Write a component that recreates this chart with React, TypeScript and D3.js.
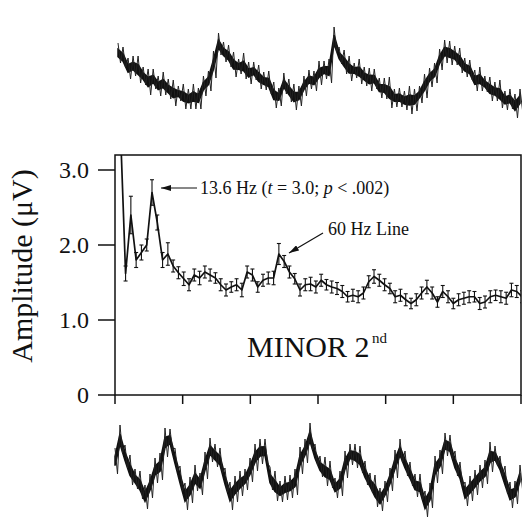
import React from "react";
import * as d3 from "d3";

// Spectrum: frequency bin width (Hz) and mean amplitude (µV) per bin, with error bars
const BIN_HZ = 1.953;
const amplitude = [
  3.6, 1.62, 2.4, 1.8, 1.9, 2.0, 2.7, 2.3, 1.8, 1.88,
  1.72, 1.63, 1.55, 1.47, 1.6, 1.56, 1.64, 1.6, 1.56, 1.47,
  1.4, 1.44, 1.47, 1.4, 1.64, 1.6, 1.44, 1.53, 1.56, 1.56,
  1.88, 1.78, 1.64, 1.55, 1.4, 1.47, 1.48, 1.44, 1.53, 1.47,
  1.44, 1.42, 1.38, 1.31, 1.33, 1.31, 1.36, 1.51, 1.58, 1.53,
  1.47, 1.42, 1.31, 1.33, 1.27, 1.22, 1.27, 1.36, 1.44, 1.36,
  1.24, 1.38, 1.31, 1.22, 1.27, 1.29, 1.31, 1.31, 1.22, 1.24,
  1.31, 1.33, 1.31, 1.29, 1.4, 1.38, 1.31,
];
const stdErr = [
  0.3, 0.1, 0.25, 0.1, 0.1, 0.08, 0.17, 0.1, 0.1, 0.15,
  0.08, 0.08, 0.09, 0.08, 0.08, 0.09, 0.08, 0.08, 0.07, 0.08,
  0.08, 0.07, 0.08, 0.09, 0.08, 0.08, 0.07, 0.08, 0.08, 0.09,
  0.14, 0.08, 0.08, 0.07, 0.08, 0.08, 0.09, 0.08, 0.08, 0.07,
  0.08, 0.08, 0.08, 0.07, 0.08, 0.08, 0.08, 0.08, 0.09, 0.08,
  0.08, 0.07, 0.08, 0.08, 0.08, 0.07, 0.08, 0.08, 0.09, 0.08,
  0.07, 0.08, 0.08, 0.07, 0.08, 0.08, 0.08, 0.07, 0.08, 0.08,
  0.08, 0.07, 0.08, 0.08, 0.09, 0.08, 0.08,
];
const yTicks = [0, 1, 2, 3];
const yTickLabels = ["0", "1.0", "2.0", "3.0"];
const xTicks = [0, 25, 50, 75, 100, 125, 150];

// Raw EEG traces: upper / lower excursion per short time window (arbitrary units)
const topTraceHi = [
  82, 78, 67, 69, 69, 58, 56, 56, 49, 53, 46, 45, 39, 41, 36, 41, 37, 49, 54, 74,
  92, 83, 80, 73, 66, 72, 63, 63, 60, 53, 54, 43, 37, 52, 46, 41, 39, 49, 55, 54,
  64, 64, 66, 98, 78, 75, 69, 62, 66, 58, 57, 56, 47, 47, 48, 36, 37, 34, 39, 36,
  39, 51, 57, 62, 76, 85, 84, 79, 77, 67, 65, 55, 58, 49, 48, 43, 45, 34, 36, 31, 36,
];
const topTraceLo = [
  62, 57, 46, 49, 42, 40, 30, 36, 29, 30, 26, 19, 24, 16, 16, 16, 16, 29, 34, 47,
  70, 63, 58, 48, 51, 46, 41, 45, 36, 35, 31, 17, 19, 31, 23, 15, 19, 29, 36, 34,
  40, 46, 42, 73, 61, 51, 44, 47, 41, 39, 34, 36, 27, 26, 17, 18, 18, 15, 11, 14,
  22, 27, 38, 42, 55, 62, 60, 60, 52, 48, 45, 34, 34, 33, 24, 24, 17, 15, 16, 7, 15,
];
const bottomTraceHi = [
  77, 100, 80, 70, 56, 54, 40, 51, 67, 72, 97, 96, 77, 59, 42, 48, 60, 52, 73, 87,
  81, 77, 57, 43, 49, 54, 56, 67, 81, 86, 86, 58, 54, 44, 49, 50, 56, 78, 86, 102,
  81, 69, 68, 64, 47, 54, 74, 81, 81, 79, 64, 52, 50, 37, 44, 57, 75, 86, 74, 63,
  51, 51, 34, 42, 69, 75, 92, 90, 74, 63, 43, 49, 55, 60, 65, 83, 79, 69, 59, 43,
  44, 60,
];
const bottomTraceLo = [
  51, 72, 57, 40, 36, 26, 16, 27, 42, 45, 68, 75, 54, 34, 15, 22, 34, 30, 46, 63,
  58, 52, 33, 15, 23, 29, 35, 43, 54, 61, 62, 35, 24, 23, 25, 27, 30, 51, 62, 75,
  60, 48, 39, 37, 27, 29, 47, 60, 57, 52, 40, 32, 18, 14, 23, 34, 47, 62, 49, 39,
  28, 25, 8, 17, 42, 51, 69, 66, 49, 39, 19, 24, 30, 37, 41, 53, 59, 49, 31, 17,
  21, 36,
];

const FONT = "'Liberation Serif', 'Times New Roman', Times, serif";

function traceShapes(
  hi: number[],
  lo: number[],
  x0: number,
  x1: number,
  yBase: number,
  yTop: number
) {
  const sx = d3.scaleLinear().domain([0, hi.length - 1]).range([x0, x1]);
  const sy = d3.scaleLinear().domain([0, 100]).range([yBase, yTop]);
  const pts: [number, number][] = [];
  hi.forEach((h, i) => {
    pts.push([sx(i), sy(h)]);
    pts.push([sx(i + 0.5), sy(lo[i])]);
  });
  const zig = d3.line()(pts) || "";
  const band =
    d3
      .area<number>()
      .x((_, i) => sx(i))
      .y0((_, i) => sy(lo[i] + (hi[i] - lo[i]) * 0.32))
      .y1((h, i) => sy(h - (hi[i] - lo[i]) * 0.32))(hi) || "";
  return { zig, band };
}

export default function App() {
  const W = 522;
  const H = 523;
  const plot = { left: 115, right: 521, top: 155, bottom: 395 };
  const x = d3.scaleLinear().domain([0, 150]).range([plot.left, plot.right]);
  const y = d3.scaleLinear().domain([0, 3.2]).range([plot.bottom, plot.top]);

  const pts = amplitude.map((v, i) => ({ f: (i + 1) * BIN_HZ, v, e: stdErr[i] }));
  const line = d3
    .line<{ f: number; v: number }>()
    .x((d) => x(d.f))
    .y((d) => y(d.v));

  const top = traceShapes(topTraceHi, topTraceLo, 118, 520, 125, 25);
  const bot = traceShapes(bottomTraceHi, bottomTraceLo, 115, 520, 525, 425);

  return (
    <svg
      width={W}
      height={H}
      style={{ position: "absolute", left: 0, top: 0, background: "#fff" }}
      fontFamily={FONT}
    >
      <defs>
        <clipPath id="plotClip">
          <rect x={plot.left} y={plot.top} width={plot.right - plot.left} height={plot.bottom - plot.top} />
        </clipPath>
        <marker id="arrow" viewBox="0 0 10 6" refX="10" refY="3" markerWidth="10" markerHeight="6" markerUnits="userSpaceOnUse" orient="auto">
          <path d="M0,0 L10,3 L0,6 Z" fill="#111" />
        </marker>
      </defs>

      {/* raw traces */}
      <path d={top.band} fill="#111" stroke="#111" strokeWidth={1.5} />
      <path d={top.zig} fill="none" stroke="#222" strokeWidth={1} strokeLinejoin="miter" />
      <path d={bot.band} fill="#111" stroke="#111" strokeWidth={1.5} />
      <path d={bot.zig} fill="none" stroke="#222" strokeWidth={1} strokeLinejoin="miter" />

      {/* frame */}
      <rect x={plot.left} y={plot.top} width={plot.right - plot.left} height={plot.bottom - plot.top} fill="none" stroke="#111" strokeWidth={1.5} />

      {/* y axis ticks */}
      {yTicks.map((t, i) => (
        <g key={"y" + t}>
          <line x1={98} x2={plot.left} y1={y(t)} y2={y(t)} stroke="#111" strokeWidth={1.5} />
          <text x={89} y={y(t)} dy="0.35em" textAnchor="end" fontSize={24} fill="#111">
            {yTickLabels[i]}
          </text>
        </g>
      ))}
      {/* x axis ticks */}
      {xTicks.map((t) => (
        <line key={"x" + t} x1={x(t)} x2={x(t)} y1={plot.bottom} y2={plot.bottom + 9} stroke="#111" strokeWidth={1.5} />
      ))}

      {/* y label */}
      <text transform="translate(32,266) rotate(-90)" textAnchor="middle" fontSize={30} fill="#111">
        Amplitude (μV)
      </text>

      {/* data */}
      <g clipPath="url(#plotClip)">
        {pts.map((d, i) => (
          <g key={"e" + i} stroke="#111" strokeWidth={1.1}>
            <line x1={x(d.f)} x2={x(d.f)} y1={y(d.v - d.e)} y2={y(d.v + d.e)} />
            <line x1={x(d.f) - 2} x2={x(d.f) + 2} y1={y(d.v - d.e)} y2={y(d.v - d.e)} />
            <line x1={x(d.f) - 2} x2={x(d.f) + 2} y1={y(d.v + d.e)} y2={y(d.v + d.e)} />
          </g>
        ))}
        <path d={line(pts) || ""} fill="none" stroke="#111" strokeWidth={1.7} strokeLinejoin="round" />
      </g>

      {/* annotations */}
      <line x1={197} y1={188} x2={161} y2={188} stroke="#111" strokeWidth={1} markerEnd="url(#arrow)" />
      <text x={200} y={194} fontSize={18} fill="#111">
        13.6 Hz (<tspan fontStyle="italic">t</tspan> = 3.0; <tspan fontStyle="italic">p</tspan> &lt; .002)
      </text>
      <line x1={323} y1={233} x2={289} y2={253} stroke="#111" strokeWidth={1.2} markerEnd="url(#arrow)" />
      <text x={328} y={234.5} fontSize={18} fill="#111">
        60 Hz Line
      </text>

      <text x={247} y={357} fontSize={30} fill="#111">
        MINOR 2
      </text>
      <text x={372} y={343} fontSize={15} fill="#111">
        nd
      </text>
    </svg>
  );
}
